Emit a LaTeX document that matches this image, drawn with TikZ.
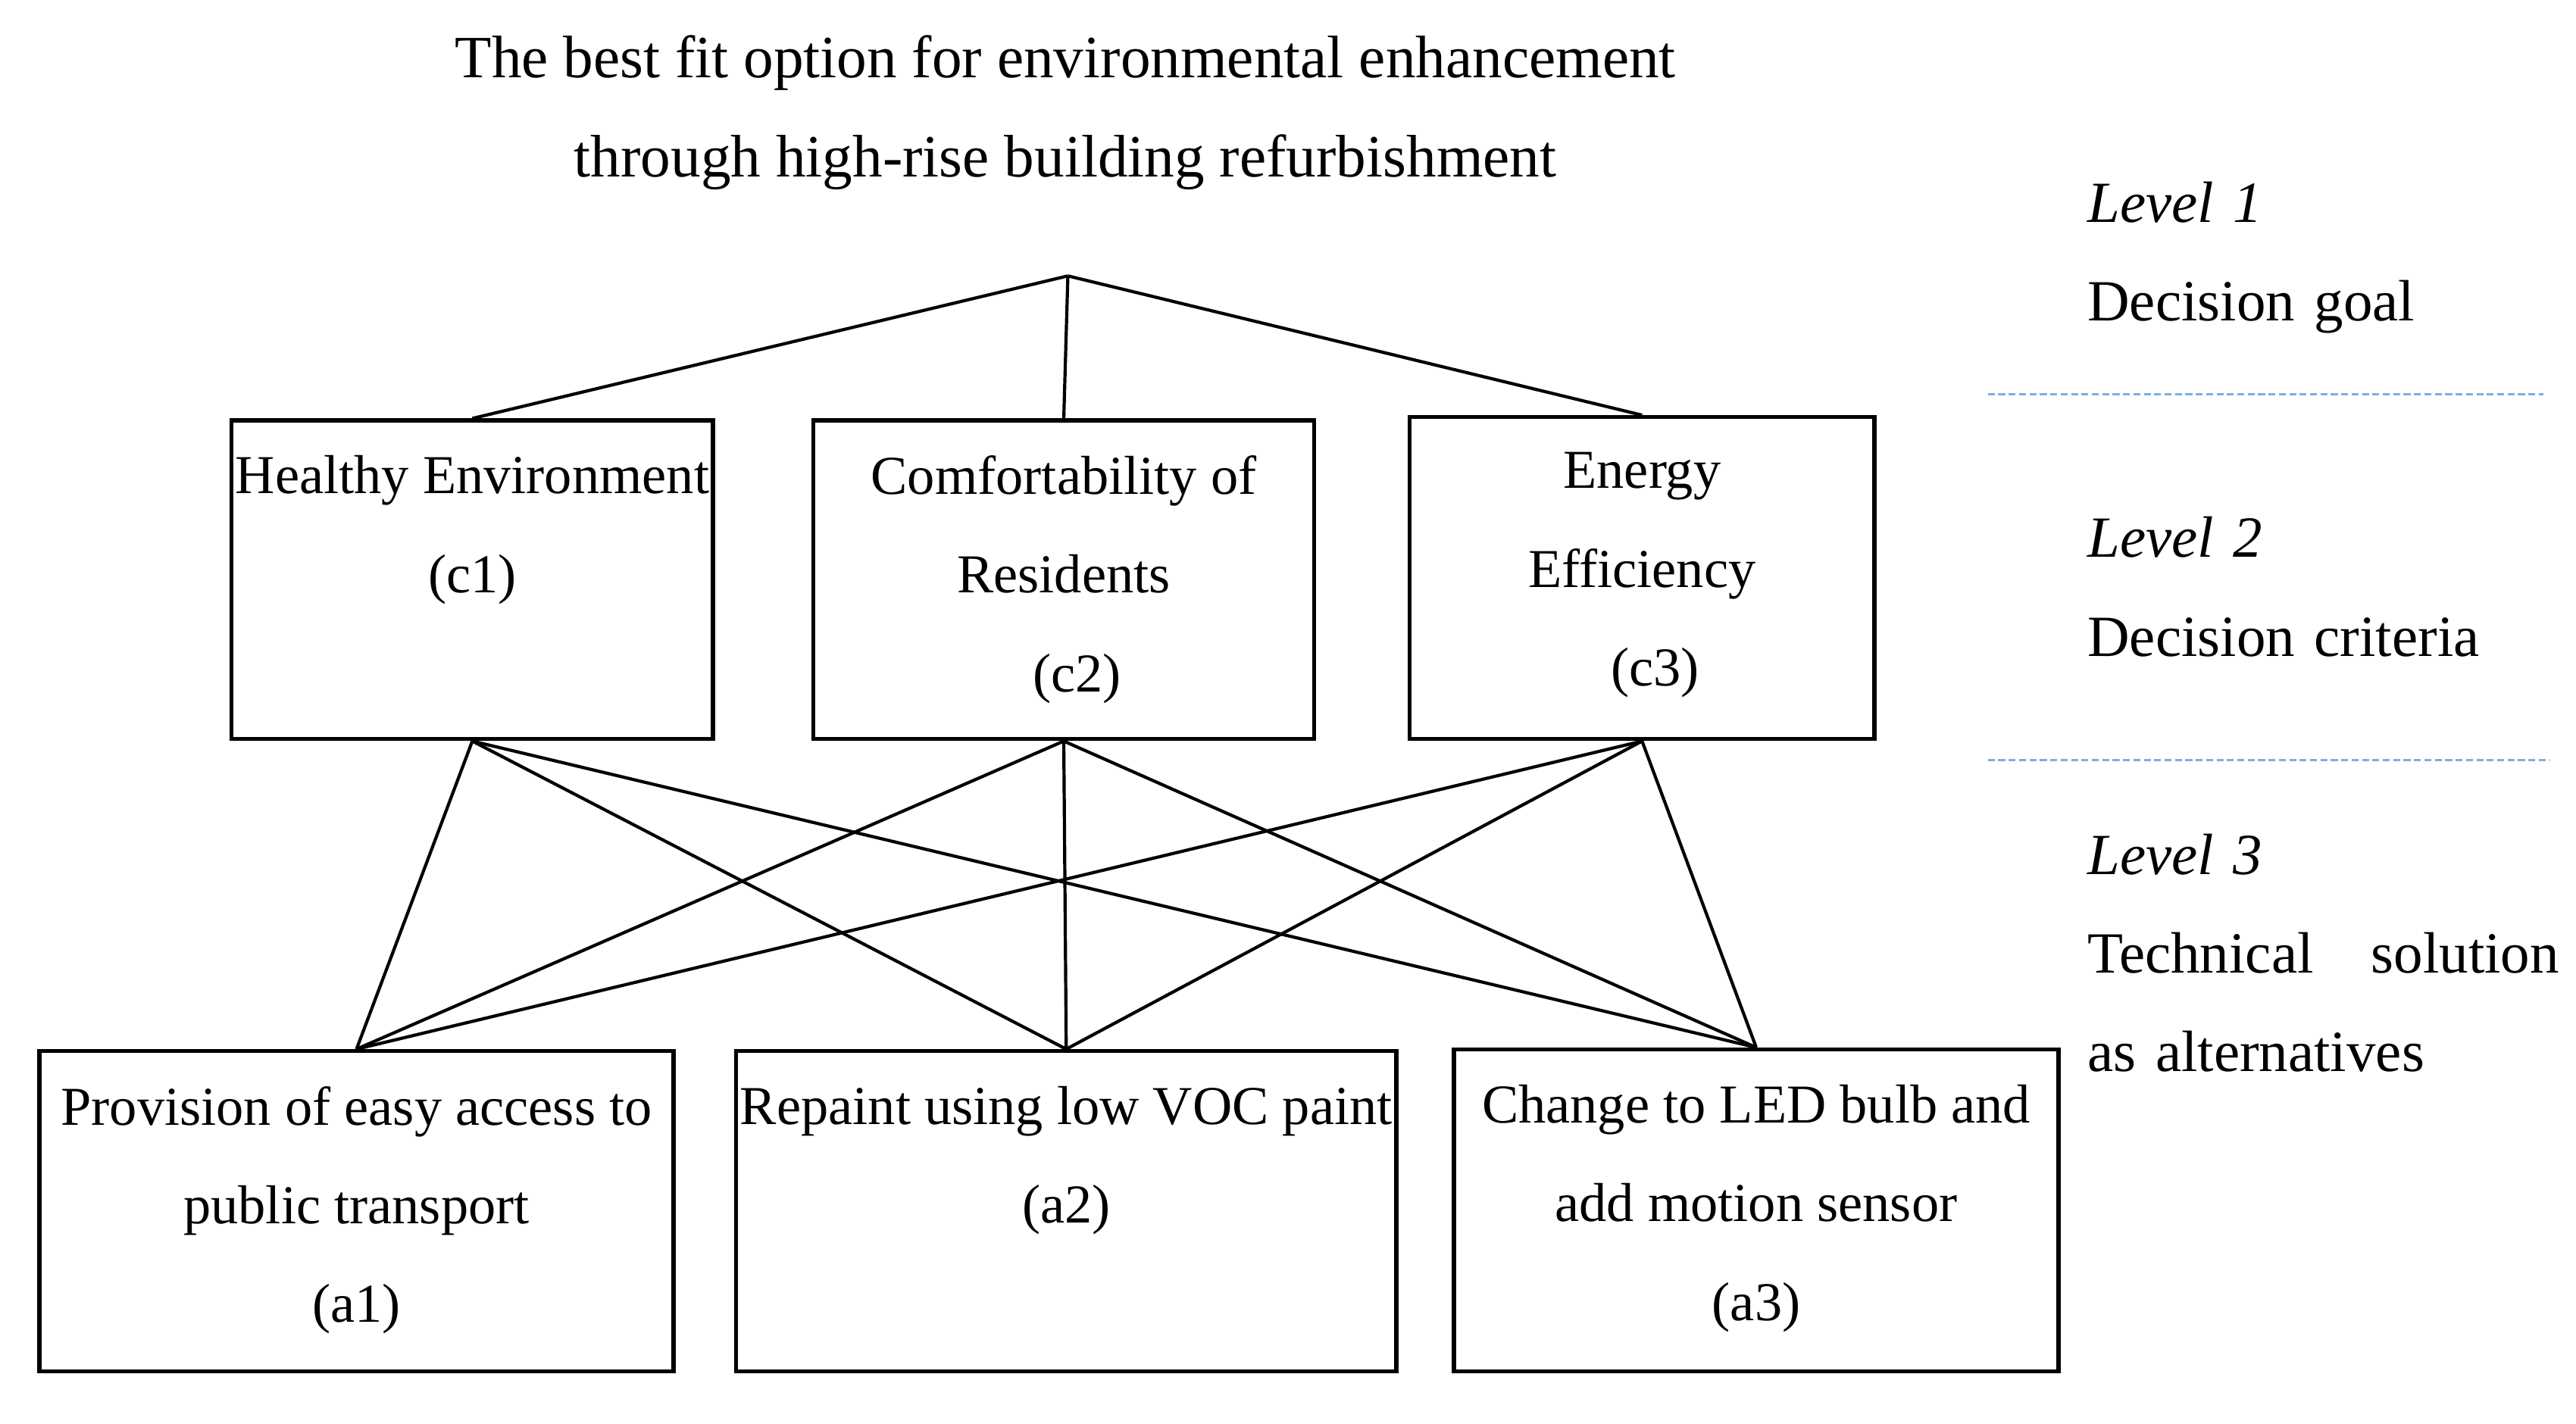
\documentclass[tikz,border=0pt]{standalone}
\usepackage{fontspec}
\setmainfont{Liberation Serif}
\usetikzlibrary{positioning}

\begin{document}
\begin{tikzpicture}[
    font=\fontsize{9.5}{17.1}\selectfont,
    boxStyle/.style={draw=borderColour, line width=0.7pt, minimum height=1.94cm, inner sep=0pt},
    textStyle/.style={align=center, inner sep=0pt, anchor=north},
    linkStyle/.style={draw=borderColour, line width=0.55pt},
    levelStyle/.style={align=left, inner sep=0pt, anchor=north west, text width=2.87cm, font=\fontsize{10.1}{17.1}\selectfont},
    sepStyle/.style={draw=sepColour, line width=0.4pt, dash pattern=on 1.2pt off 0.6pt}
]
    \definecolor{borderColour}{HTML}{000000}
    \definecolor{sepColour}{HTML}{7FAEDD}

    \useasboundingbox (0,0) rectangle (15.68,-8.67);

    % Decision goal
    \node[textStyle, font=\fontsize{10.4}{17.1}\selectfont] (title) at (6.485,-0.21) {The best fit option for environmental enhancement\\through high-rise building refurbishment};
    \coordinate (goal) at (6.50,-1.68);

    % Criteria boxes
    \node[boxStyle, minimum width=2.93cm] (c1) at (2.875,-3.53) {};
    \node[boxStyle, minimum width=3.05cm] (c2) at (6.475,-3.53) {};
    \node[boxStyle, minimum width=2.83cm, minimum height=1.96cm] (c3) at (9.995,-3.52) {};
    \node[textStyle, below=0.22cm of c1.north] (c1Text) {Healthy Environment\\(c1)};
    \node[textStyle, below=0.22cm of c2.north] (c2Text) {Comfortability of\\Residents\\\hspace*{1.6mm}(c2)};
    \node[textStyle, below=0.22cm of c3.north] (c3Text) {Energy\\Efficiency\\\hspace*{1.6mm}(c3)};

    % Alternative boxes
    \node[boxStyle, minimum width=3.86cm, minimum height=1.95cm] (a1) at (2.17,-7.375) {};
    \node[boxStyle, minimum width=4.02cm, minimum height=1.95cm] (a2) at (6.49,-7.375) {};
    \node[boxStyle, minimum width=3.68cm, minimum height=1.96cm] (a3) at (10.69,-7.37) {};
    \node[textStyle, below=0.22cm of a1.north] (a1Text) {Provision of easy access to\\public transport\\(a1)};
    \node[textStyle, below=0.22cm of a2.north] (a2Text) {Repaint using low VOC paint\\(a2)};
    \node[textStyle, below=0.22cm of a3.north] (a3Text) {Change to LED bulb and\\add motion sensor\\(a3)};

    % Links
    \foreach \c in {c1,c2,c3}
        \draw[linkStyle] (goal) -- (\c.north);
    \foreach \c in {c1,c2,c3}
        \foreach \a in {a1,a2,a3}
            \draw[linkStyle] (\c.south) -- (\a.north);

    % Levels
    \node[levelStyle] (level1) at (12.70,-1.10) {\textit{Level 1}\\Decision goal};
    \node[levelStyle] (level2) at (12.70,-3.14) {\textit{Level 2}\\Decision criteria};
    \node[levelStyle] (level3) at (12.70,-5.07) {\textit{Level 3}\\Technical\hfill solution\\as alternatives};

    \draw[sepStyle] (12.10,-2.40) -- (15.48,-2.40);
    \draw[sepStyle] (12.10,-4.63) -- (15.52,-4.63);
\end{tikzpicture}
\end{document}
